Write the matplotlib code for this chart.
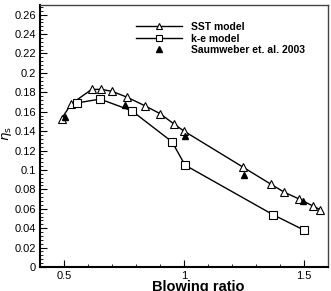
import numpy as np
import matplotlib.pyplot as plt
from matplotlib.ticker import MultipleLocator

plt.rcParams['font.family'] = ['Liberation Sans', 'DejaVu Sans']

# SST model
sst_x = [0.49, 0.53, 0.615, 0.655, 0.70, 0.762, 0.838, 0.90, 0.96, 1.0, 1.245, 1.364, 1.418, 1.48, 1.536, 1.568]
sst_y = [0.153, 0.168, 0.183, 0.183, 0.181, 0.175, 0.166, 0.158, 0.147, 0.140, 0.103, 0.085, 0.077, 0.070, 0.063, 0.059]
# k-e model
ke_x = [0.554, 0.65, 0.782, 0.95, 1.004, 1.37, 1.50]
ke_y = [0.169, 0.173, 0.161, 0.129, 0.105, 0.054, 0.038]
# experiment
exp_x = [0.505, 0.754, 1.005, 1.25, 1.497]
exp_y = [0.155, 0.167, 0.135, 0.095, 0.068]

ytick_vals = np.arange(0, 0.27, 0.02)
ytick_labels = ['0', '0.02', '0.04', '0.06', '0.08', '0.1', '0.12', '0.14',
                '0.16', '0.18', '0.2', '0.22', '0.24', '0.26']

fig = plt.figure(figsize=(3.31, 2.91), dpi=100)
ax = fig.add_axes([0.121, 0.0825, 0.870, 0.9005])

ax.plot(sst_x, sst_y, 'k-', marker='^', mfc='white', mec='k', ms=6, mew=0.8, lw=1, label='SST model')
ax.plot(ke_x, ke_y, 'k-', marker='s', mfc='white', mec='k', ms=5.5, mew=0.8, lw=1, label='k-e model')
ax.plot(exp_x, exp_y, 'k^', ms=5, ls='none', label='Saumweber et. al. 2003')

ax.set_xlim(0.4, 1.6)
ax.set_ylim(0, 0.27)
ax.xaxis.set_minor_locator(MultipleLocator(0.1))
ax.yaxis.set_minor_locator(MultipleLocator(0.004))
ax.set_yticks(ytick_vals)
ax.set_yticklabels(ytick_labels)
ax.set_xticks([0.5, 1, 1.5])
ax.set_xticklabels(['0.5', '1', '1.5'])
ax.tick_params(which='both', direction='in', labelsize=8, top=False, right=False)
ax.tick_params(which='major', length=5, pad=3)
ax.tick_params(which='minor', length=2.5)
for s in ['left', 'bottom']:
    ax.spines[s].set_linewidth(1.5)
for s in ['top', 'right']:
    ax.spines[s].set_linewidth(1.0)
    ax.spines[s].set_color('#444444')

ax.set_xlabel('Blowing ratio', fontsize=10.5, fontweight='bold')
ax.xaxis.set_label_coords(0.549, -0.05)
ax.set_ylabel(r'$\eta_{\rm s}$', fontsize=9.5)
ax.yaxis.set_label_coords(-0.09, 0.51)

ax.legend(loc='upper left', bbox_to_anchor=(0.333, 0.935), frameon=False,
          prop={'size': 7.5, 'weight': 'bold'}, markerscale=0.8,
          handlelength=4.4, labelspacing=0.15, handletextpad=0.85,
          borderpad=0, borderaxespad=0)

fig.savefig('out.png', dpi=100)
